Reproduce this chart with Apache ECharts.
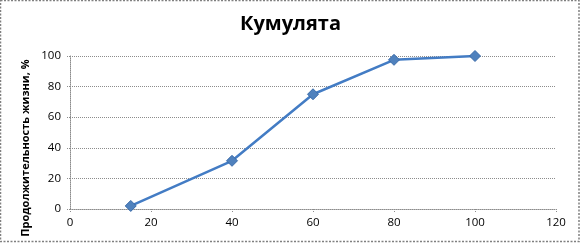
<!DOCTYPE html>
<html><head><meta charset="utf-8">
<script src="https://cdn.jsdelivr.net/npm/echarts@6/dist/echarts.min.js"></script>
<style>html,body{margin:0;padding:0;background:#fff}#c{width:581px;height:244px}</style>
</head><body><div id="c"></div>
<script>
var titleText = 'Кумулята';
var yAxisName = 'Продолжительность жизни, %';
var xValues = [15, 40, 60, 80, 100];
var yValues = [2, 31.5, 75, 97.5, 100];
var chart = echarts.init(document.getElementById('c'), null, {renderer:'canvas'});
var font = '"Open Sans", "DejaVu Sans", sans-serif';
chart.setOption({
  animation:false,
  title:{text:titleText,left:'center',top:9,textStyle:{fontFamily:font,fontSize:20,fontWeight:'bold',color:'#000'}},
  grid:{left:70,right:25,top:56,bottom:35,containLabel:false},
  xAxis:{type:'value',min:0,max:120,interval:20,
    axisLine:{show:true,lineStyle:{color:'#8c8c8c',type:'dotted',width:1}},
    axisTick:{show:true,inside:false,length:4,lineStyle:{color:'#8c8c8c',type:'dotted'}},
    axisLabel:{fontFamily:font,fontSize:11.5,color:'#000',margin:8},
    splitLine:{show:false}},
  yAxis:{type:'value',min:0,max:100,interval:20,
    axisLine:{show:true,lineStyle:{color:'#8c8c8c',type:'dotted',width:1}},
    axisTick:{show:true,length:4,lineStyle:{color:'#8c8c8c',type:'dotted'}},
    axisLabel:{fontFamily:font,fontSize:11.5,color:'#000',margin:9},
    splitLine:{show:true,lineStyle:{color:'#8c8c8c',type:'dotted',width:1}}},
  series:[{type:'line',data:xValues.map(function(x,i){return [x,yValues[i]];}),
    symbol:'diamond',symbolSize:11,
    lineStyle:{color:'#437cc4',width:2.5},
    itemStyle:{color:'#4f81bd',borderColor:'#3a6aa8',borderWidth:1}}],
  graphic:[
    {type:'text',x:26,y:148,rotation:Math.PI/2,
      style:{text:yAxisName,fontFamily:font,fontSize:11,fontWeight:'bold',fill:'#000',align:'center',verticalAlign:'middle'}},
    {type:'rect',shape:{x:0.5,y:0.5,width:578.5,height:241},
    style:{fill:'none',stroke:'#808080',lineWidth:1.5,lineDash:[2,1.5]},z:100}]
});
</script></body></html>
